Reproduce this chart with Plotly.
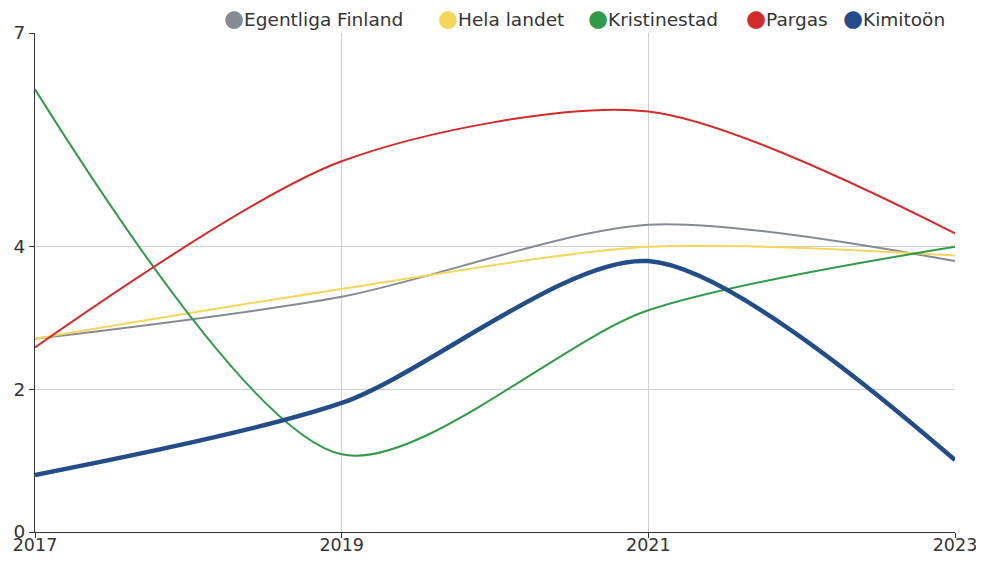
import plotly.graph_objects as go

years = [2017, 2019, 2021, 2023]
series_names = ['Egentliga Finland', 'Hela landet', 'Kristinestad', 'Pargas', 'Kimitoön']
egentliga_finland = [2.71, 3.30, 4.31, 3.80]
hela_landet = [2.71, 3.41, 4.00, 3.88]
kristinestad = [6.21, 1.09, 3.11, 4.00]
pargas = [2.59, 5.20, 5.90, 4.19]
kimitoon = [0.80, 1.81, 3.80, 1.01]
y_ticks = [0, 2, 4, 7]

colors = ['#858a94', '#f3d65a', '#2f9b47', '#d42a2a', '#234d89']
widths = [2, 2, 2, 2, 4.5]
values = [egentliga_finland, hela_landet, kristinestad, pargas, kimitoon]

# the page adds an 8px body margin, so the figure is a little smaller than the window
W, H = 968, 546
L, R, T, B = 27, 21, 25, 22
plot_w, plot_h = W - L - R, H - T - B

fig = go.Figure()

# draw order: background lines first, Kimitoön on top
for name, vals, col, w in zip(series_names, values, colors, widths):
    fig.add_trace(go.Scatter(
        x=years, y=vals, name=name, mode='lines',
        line=dict(color=col, width=w, shape='spline', smoothing=0.8),
        showlegend=False
    ))

# legend drawn as text so the dot sits tight against the label
legend_left = [214, 428, 578, 736, 833]
for name, col, px in zip(series_names, colors, legend_left):
    fig.add_annotation(
        text=f"<span style='color:{col};font-size:23px'>●</span>{name}",
        xref='paper', yref='paper',
        x=(px - L) / plot_w, y=(H - B - 10) / plot_h,
        xanchor='left', yanchor='middle',
        showarrow=False,
        font=dict(size=18.5, color='#333')
    )

fig.update_layout(
    width=W, height=H,
    margin=dict(l=L, r=R, t=T, b=B),
    paper_bgcolor='white', plot_bgcolor='white',
    font=dict(family='DejaVu Sans', size=18.5, color='#333'),
    showlegend=False,
)
fig.update_xaxes(
    range=[2017, 2023], tickvals=years, ticktext=[str(y) for y in years],
    showgrid=True, gridcolor='#cfcfcf', gridwidth=1,
    showline=True, linecolor='#333', linewidth=1,
    ticks='outside', ticklen=5, tickcolor='#333', zeroline=False,
    ticklabelstandoff=-8, ticklabeloverflow='allow',
    tickfont=dict(size=17.5), automargin=False
)
fig.update_yaxes(
    range=[0, 7], tickvals=y_ticks,
    showgrid=True, gridcolor='#cfcfcf', gridwidth=1,
    showline=True, linecolor='#333', linewidth=1,
    ticks='outside', ticklen=5, tickcolor='#333', zeroline=False,
    automargin=False
)

fig.write_html("out.html")
